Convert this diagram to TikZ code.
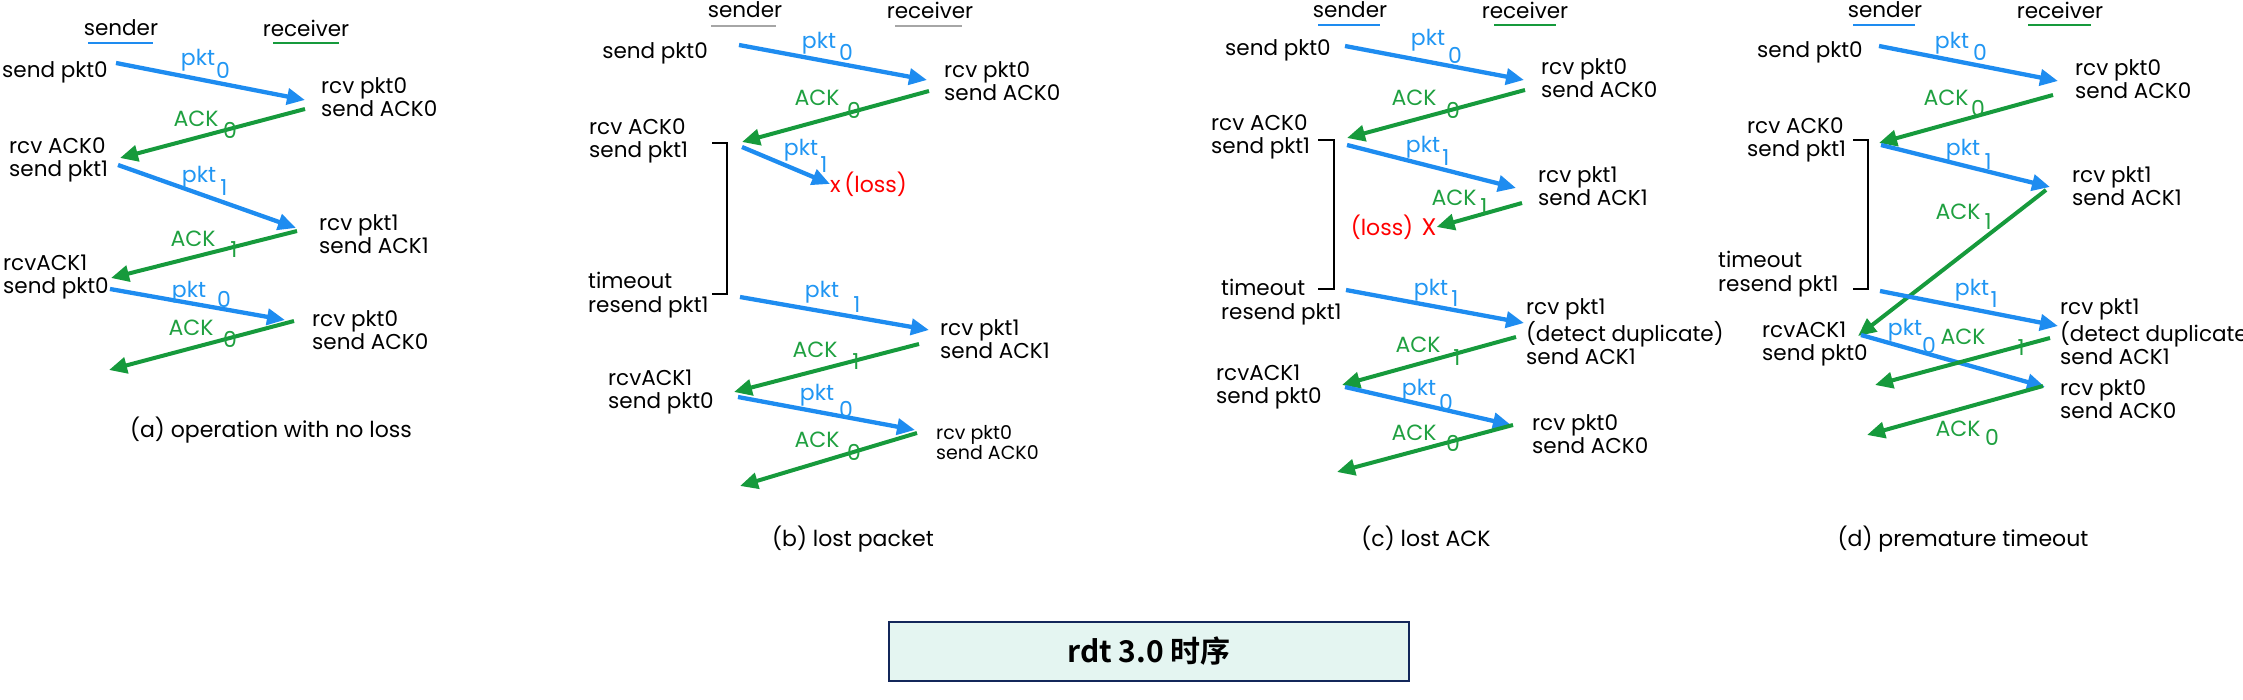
\documentclass[tikz,border=0pt]{standalone}
\usepackage{fontspec}
\setmainfont{Poppins}
\newfontfamily\cjk{Noto Sans CJK SC}[BoldFont={Noto Sans CJK SC Bold}]
\usetikzlibrary{arrows.meta}
\definecolor{pblue}{HTML}{1E8CF0}
\definecolor{pgreen}{HTML}{169A3C}
\definecolor{lblue}{HTML}{2196F3}
\definecolor{lgreen}{HTML}{1FA040}
\definecolor{boxfill}{HTML}{E4F5F1}
\definecolor{boxedge}{HTML}{13275A}
\begin{document}
\begin{tikzpicture}[x=1pt,y=-1pt,
  txt/.style={font=\fontsize{21.5}{23.5}\selectfont, inner sep=0pt, align=left, text=black},
  small/.style={font=\fontsize{19}{20}\selectfont, inner sep=0pt, align=left},
  lb/.style={font=\fontsize{22}{23}\selectfont, inner sep=0pt, text=lblue},
  lg/.style={font=\fontsize{22}{23}\selectfont, inner sep=0pt, text=lgreen},
  pk/.style={pblue, line width=4.3pt, -{Triangle[length=18pt,width=16pt]}},
  ak/.style={pgreen, line width=4pt, -{Triangle[length=18pt,width=16pt]}},
  brk/.style={black, line width=2.8pt},
  ul/.style={line width=2.5pt},
  capt/.style={font=\fontsize{22}{23}\selectfont, inner sep=0pt}]
\useasboundingbox (0,0) rectangle (2243,700);

% ================= (a)
\node[txt] (aS) at (121,28) {sender};
\node[txt] (aR) at (306,28) {receiver};
\draw[ul,pblue] (88,43) -- (153,43);
\draw[ul,pgreen] (273,43) -- (339,43);
\node[txt,anchor=west] (a1) at (2,72) {send pkt0};
\node[txt,anchor=west] (a2) at (321,97) {rcv pkt0\\send ACK0};
\node[txt,anchor=west] (a3) at (9,160) {rcv ACK0\\send pkt1};
\node[txt,anchor=west] (a4) at (319,234) {rcv pkt1\\send ACK1};
\node[txt,anchor=west] (a5) at (3,277) {rcvACK1\\send pkt0};
\node[txt,anchor=west] (a6) at (312,330) {rcv pkt0\\send ACK0};
\coordinate (ap0s) at (116,63); \coordinate (ap0e) at (305,100);
\coordinate (aa0s) at (305,109); \coordinate (aa0e) at (120,158);
\coordinate (ap1s) at (118,165); \coordinate (ap1e) at (296,228);
\coordinate (aa1s) at (297,231); \coordinate (aa1e) at (111,278);
\coordinate (ap2s) at (110,289); \coordinate (ap2e) at (285,320);
\coordinate (aa2s) at (294,321); \coordinate (aa2e) at (109,370);
\draw[pk] (ap0s) -- (ap0e); \draw[ak] (aa0s) -- (aa0e);
\draw[pk] (ap1s) -- (ap1e); \draw[ak] (aa1s) -- (aa1e);
\draw[pk] (ap2s) -- (ap2e); \draw[ak] (aa2s) -- (aa2e);
\node[lb] at (198,60) {pkt}; \node[lb] at (223,70) {0};
\node[lg] at (196,119) {ACK}; \node[lg] at (230,130) {0};
\node[lb] at (199,177) {pkt}; \node[lb] at (224,188) {1};
\node[lg] at (193,239) {ACK}; \node[lg] at (234,250) {1};
\node[lb] at (189,292) {pkt}; \node[lb] at (224,299) {0};
\node[lg] at (191,328) {ACK}; \node[lg] at (230,339) {0};
\node[capt] (ca) at (271,430) {(a) operation with no loss};

% ================= (b)
\node[txt] (bS) at (745,10) {sender};
\node[txt] (bR) at (930,10) {receiver};
\draw[ul,gray!70] (711,26) -- (776,26);
\draw[ul,gray!70] (895,26) -- (962,26);
\node[txt,anchor=east] (b1) at (708,53) {send pkt0};
\node[txt,anchor=west] (b2) at (944,81) {rcv pkt0\\send ACK0};
\node[txt,anchor=west] (b3) at (589,141) {rcv ACK0\\send pkt1};
\node[txt,anchor=west] (b4) at (588,295) {timeout\\resend pkt1};
\node[txt,anchor=west] (b5) at (940,339) {rcv pkt1\\send ACK1};
\node[txt,anchor=west] (b6) at (608,392) {rcvACK1\\send pkt0};
\node[small,anchor=west] (b7) at (936,443) {rcv pkt0\\send ACK0};
\node[font=\fontsize{22}{23}\selectfont,inner sep=0pt,text=red,anchor=west] (bx) at (830,184) {x\,(loss)};
\draw[brk] (712,143) -- (727,143) -- (727,294) -- (712,294);
\coordinate (bp0s) at (739,45); \coordinate (bp0e) at (927,80);
\coordinate (ba0s) at (929,91); \coordinate (ba0e) at (742,142);
\coordinate (bp1s) at (742,147);
\coordinate (bp2s) at (740,297); \coordinate (bp2e) at (929,330);
\coordinate (ba2s) at (919,344); \coordinate (ba2e) at (734,392);
\coordinate (bp3s) at (738,397); \coordinate (bp3e) at (915,430);
\coordinate (ba3s) at (917,433); \coordinate (ba3e) at (740,486);
\draw[pk] (bp0s) -- (bp0e); \draw[ak] (ba0s) -- (ba0e);
\draw[pk] (bp1s) -- (bx.west);
\draw[pk] (bp2s) -- (bp2e); \draw[ak] (ba2s) -- (ba2e);
\draw[pk] (bp3s) -- (bp3e); \draw[ak] (ba3s) -- (ba3e);
\node[lb] at (819,43) {pkt}; \node[lb] at (846,52) {0};
\node[lg] at (817,98) {ACK}; \node[lg] at (854,110) {0};
\node[lb] at (801,150) {pkt}; \node[lb] at (824,165) {1};
\node[lb] at (822,292) {pkt}; \node[lb] at (857,305) {1};
\node[lg] at (815,350) {ACK}; \node[lg] at (856,362) {1};
\node[lb] at (817,395) {pkt}; \node[lb] at (846,409) {0};
\node[lg] at (817,440) {ACK}; \node[lg] at (854,452) {0};
\node[capt] (cb) at (853,539) {(b) lost packet};

% ================= (c)
\node[txt] (cS) at (1350,10) {sender};
\node[txt] (cR) at (1525,10) {receiver};
\draw[ul,pblue] (1318,25) -- (1380,25);
\draw[ul,pgreen] (1494,25) -- (1556,25);
\node[txt,anchor=west] (c1) at (1225,50) {send pkt0};
\node[txt,anchor=west] (c2) at (1541,78) {rcv pkt0\\send ACK0};
\node[txt,anchor=west] (c3) at (1211,137) {rcv ACK0\\send pkt1};
\node[txt,anchor=west] (c4) at (1538,186) {rcv pkt1\\send ACK1};
\node[txt,anchor=west] (c5) at (1221,302) {timeout\\resend pkt1};
\node[txt,anchor=west] (c6) at (1526,332) {rcv pkt1\\(detect duplicate)\\send ACK1};
\node[txt,anchor=west] (c7) at (1216,387) {rcvACK1\\send pkt0};
\node[txt,anchor=west] (c8) at (1532,434) {rcv pkt0\\send ACK0};
\node[font=\fontsize{22}{23}\selectfont,inner sep=0pt,text=red] (cl) at (1382,227) {(loss)};
\node[font=\fontsize{24}{23}\selectfont,inner sep=0pt,text=red] (cx) at (1429,227) {X};
\draw[brk] (1318,140) -- (1334,140) -- (1334,289) -- (1318,289);
\coordinate (cp0s) at (1345,46); \coordinate (cp0e) at (1524,80);
\coordinate (ca0s) at (1525,90); \coordinate (ca0e) at (1347,138);
\coordinate (cp1s) at (1347,145); \coordinate (cp1e) at (1516,188);
\coordinate (ca1s) at (1522,203);
\coordinate (cp2s) at (1346,290); \coordinate (cp2e) at (1524,323);
\coordinate (ca2s) at (1516,337); \coordinate (ca2e) at (1342,385);
\coordinate (cp3s) at (1345,387); \coordinate (cp3e) at (1511,425);
\coordinate (ca3s) at (1513,425); \coordinate (ca3e) at (1337,472);
\draw[pk] (cp0s) -- (cp0e); \draw[ak] (ca0s) -- (ca0e);
\draw[pk] (cp1s) -- (cp1e); \draw[ak] (ca1s) -- (cx.east);
\draw[pk] (cp2s) -- (cp2e); \draw[ak] (ca2s) -- (ca2e);
\draw[pk] (cp3s) -- (cp3e); \draw[ak] (ca3s) -- (ca3e);
\node[lb] at (1428,40) {pkt}; \node[lb] at (1455,55) {0};
\node[lg] at (1414,98) {ACK}; \node[lg] at (1453,110) {0};
\node[lb] at (1423,147) {pkt}; \node[lb] at (1446,158) {1};
\node[lg] at (1454,198) {ACK}; \node[lg] at (1484,207) {1};
\node[lb] at (1431,290) {pkt}; \node[lb] at (1455,299) {1};
\node[lg] at (1418,345) {ACK}; \node[lg] at (1457,358) {1};
\node[lb] at (1419,390) {pkt}; \node[lb] at (1446,402) {0};
\node[lg] at (1414,433) {ACK}; \node[lg] at (1453,443) {0};
\node[capt] (cc) at (1426,538) {(c) lost ACK};

% ================= (d)
\node[txt] (dS) at (1885,10) {sender};
\node[txt] (dR) at (2060,10) {receiver};
\draw[ul,pblue] (1853,25) -- (1915,25);
\draw[ul,pgreen] (2028,25) -- (2091,25);
\node[txt,anchor=west] (d1) at (1757,52) {send pkt0};
\node[txt,anchor=west] (d2) at (2075,79) {rcv pkt0\\send ACK0};
\node[txt,anchor=west] (d3) at (1747,140) {rcv ACK0\\send pkt1};
\node[txt,anchor=west] (d4) at (2072,186) {rcv pkt1\\send ACK1};
\node[txt,anchor=west] (d5) at (1718,274) {timeout\\resend pkt1};
\node[txt,anchor=west] (d6) at (2060,332) {rcv pkt1\\(detect duplicate)\\send ACK1};
\node[txt,anchor=west] (d7) at (1762,344) {rcvACK1\\send pkt0};
\node[txt,anchor=west] (d8) at (2060,399) {rcv pkt0\\send ACK0};
\draw[brk] (1853,140) -- (1868,140) -- (1868,289) -- (1853,289);
\coordinate (dp0s) at (1879,46); \coordinate (dp0e) at (2058,81);
\coordinate (da0s) at (2053,95); \coordinate (da0e) at (1879,143);
\coordinate (dp1s) at (1881,145); \coordinate (dp1e) at (2050,187);
\coordinate (da1s) at (2046,190); \coordinate (da1e) at (1858,336);
\coordinate (dp2s) at (1880,291); \coordinate (dp2e) at (2058,326);
\coordinate (dp3s) at (1861,335); \coordinate (dp3e) at (2045,387);
\coordinate (da2s) at (2050,338); \coordinate (da2e) at (1875,385);
\coordinate (da3s) at (2043,386); \coordinate (da3e) at (1867,435);
\draw[pk] (dp0s) -- (dp0e); \draw[ak] (da0s) -- (da0e);
\draw[pk] (dp1s) -- (dp1e); \draw[ak] (da1s) -- (da1e);
\draw[pk] (dp2s) -- (dp2e); \draw[pk] (dp3s) -- (dp3e);
\draw[ak] (da2s) -- (da2e); \draw[ak] (da3s) -- (da3e);
\node[lb] at (1952,43) {pkt}; \node[lb] at (1980,52) {0};
\node[lg] at (1946,98) {ACK}; \node[lg] at (1978,108) {0};
\node[lb] at (1963,150) {pkt}; \node[lb] at (1988,162) {1};
\node[lg] at (1958,212) {ACK}; \node[lg] at (1988,222) {1};
\node[lb] at (1972,290) {pkt}; \node[lb] at (1994,300) {1};
\node[lb] at (1905,330) {pkt}; \node[lb] at (1929,345) {0};
\node[lg] at (1963,337) {ACK}; \node[lg] at (2021,348) {1};
\node[lg] at (1958,429) {ACK}; \node[lg] at (1992,437) {0};
\node[capt] (cd) at (1963,539) {(d) premature timeout};

% ================= title box
\node[draw=boxedge, fill=boxfill, line width=2pt, minimum width=520pt, minimum height=59pt, inner sep=0pt,
      font=\cjk\bfseries\fontsize{30}{34}\selectfont] (title) at (1149,651.5) {rdt 3.0 时序};
\end{tikzpicture}
\end{document}
